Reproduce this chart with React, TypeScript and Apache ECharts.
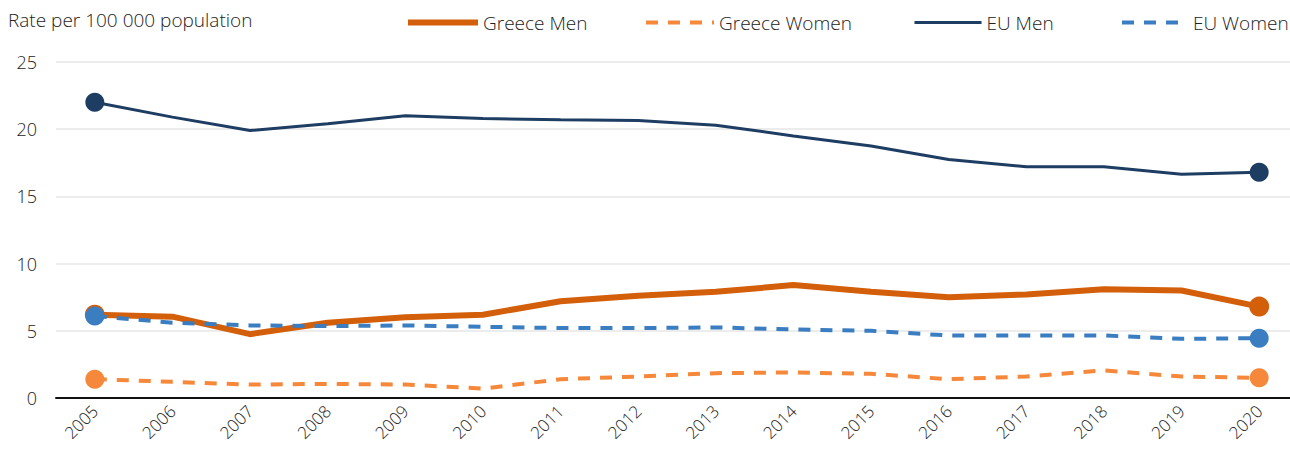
import React, { useEffect, useRef } from "react";
import * as echarts from "echarts";

const years = ["2005","2006","2007","2008","2009","2010","2011","2012","2013","2014","2015","2016","2017","2018","2019","2020"];
const greeceMen = [6.2, 6.05, 4.75, 5.6, 6.0, 6.2, 7.2, 7.6, 7.9, 8.4, 7.9, 7.5, 7.7, 8.1, 8.0, 6.8];
const greeceWomen = [1.4, 1.2, 1.0, 1.05, 1.0, 0.7, 1.4, 1.6, 1.85, 1.9, 1.8, 1.4, 1.6, 2.05, 1.6, 1.5];
const euMen = [22.0, 20.9, 19.9, 20.4, 21.0, 20.8, 20.7, 20.65, 20.3, 19.5, 18.75, 17.75, 17.2, 17.2, 16.65, 16.8];
const euWomen = [6.1, 5.6, 5.4, 5.35, 5.4, 5.3, 5.2, 5.2, 5.25, 5.1, 5.0, 4.65, 4.65, 4.65, 4.4, 4.45];
const yTicks = [0, 5, 10, 15, 20, 25];

const FONT = "'Open Sans', 'Noto Sans', sans-serif";
const FW = 300;

function endDots(arr: number[], size: number) {
  return arr.map((v, i) =>
    i === 0 || i === arr.length - 1
      ? { value: v, symbol: "circle", symbolSize: size }
      : { value: v, symbol: "none" }
  );
}

export default function App() {
  const ref = useRef<HTMLDivElement>(null);
  useEffect(() => {
    if (!ref.current) return;
    const chart = echarts.init(ref.current, null, { renderer: "svg" });
    const legendText = { fontFamily: FONT, fontSize: 19, fontWeight: FW, color: "#222" };
    const mkLegend = (name: string, left: number, w: number) => ({
      data: [{ name, itemStyle: { opacity: 0 } }],
      left,
      top: 13,
      padding: 0,
      itemWidth: w,
      itemHeight: 14,
      itemGap: 5,
      textStyle: legendText,
      lineStyle: { width: "inherit" },
      selectedMode: false,
    });
    chart.setOption({
      animation: false,
      textStyle: { fontFamily: FONT },
      legend: [
        mkLegend("Greece Men", 405, 70),
        mkLegend("Greece Women", 644, 68),
        mkLegend("EU Men", 913, 67),
        mkLegend("EU Women", 1120, 66),
      ],
      graphic: [
        {
          type: "text",
          left: 8,
          top: 10,
          style: { text: "Rate per 100 000 population", fontFamily: FONT, fontSize: 19, fontWeight: FW, fill: "#222" },
        },
      ],
      grid: { left: 56, top: 62, width: 1242, height: 336, containLabel: false },
      xAxis: {
        type: "category",
        data: years,
        boundaryGap: true,
        axisLine: { show: true, lineStyle: { color: "#111", width: 2 } },
        axisTick: { show: false },
        axisLabel: {
          rotate: 45,
          fontFamily: FONT,
          fontSize: 17,
          fontWeight: FW,
          color: "#222",
          margin: 10,
          interval: 0,
        },
      },
      yAxis: {
        type: "value",
        min: 0,
        max: 25,
        interval: 5,
        axisLine: { show: false },
        axisTick: { show: false },
        splitLine: { lineStyle: { color: "#e6e6e6", width: 1.5 } },
        axisLabel: {
          fontFamily: FONT,
          fontSize: 18,
          fontWeight: FW,
          color: "#222",
          margin: 19,
          formatter: (v: number) => (yTicks.includes(v) ? String(v) : ""),
        },
      },
      series: [
        {
          name: "EU Women",
          type: "line",
          data: endDots(euWomen, 19),
          symbol: "none",
          color: "#3A7DC1",
          lineStyle: { width: 4, type: [12, 10], color: "#3A7DC1" },
          itemStyle: { color: "#3A7DC1" },
          z: 2,
        },
        {
          name: "Greece Women",
          type: "line",
          data: endDots(greeceWomen, 19),
          symbol: "none",
          color: "#F5883A",
          lineStyle: { width: 4, type: [12, 10], color: "#F5883A" },
          itemStyle: { color: "#F5883A" },
          z: 2,
        },
        {
          name: "EU Men",
          type: "line",
          data: endDots(euMen, 19),
          symbol: "none",
          color: "#1D3D63",
          lineStyle: { width: 3, color: "#1D3D63" },
          itemStyle: { color: "#1D3D63" },
          z: 3,
        },
        {
          name: "Greece Men",
          type: "line",
          data: endDots(greeceMen, 20),
          symbol: "none",
          color: "#D35F0B",
          lineStyle: { width: 6, color: "#D35F0B" },
          itemStyle: { color: "#D35F0B" },
          z: 1,
        },
      ],
    });
    return () => chart.dispose();
  }, []);
  return (
    <div style={{ position: "fixed", left: 0, top: 0, width: 1290, height: 453, overflow: "hidden", background: "#fff" }}>
      <div ref={ref} style={{ width: 1300, height: 453 }} />
    </div>
  );
}
